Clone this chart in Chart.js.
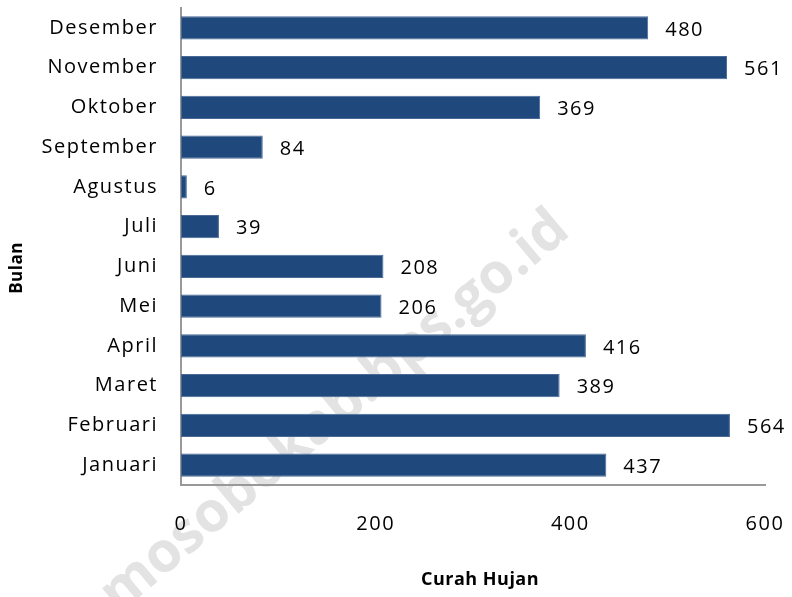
<!DOCTYPE html>
<html>
<head>
<meta charset="utf-8">
<script src="https://cdn.jsdelivr.net/npm/chart.js@4.4.1/dist/chart.umd.min.js"></script>
<style>
  html, body { margin: 0; padding: 0; background: #ffffff; }
  #wrap { width: 792px; height: 597px; }
</style>
</head>
<body>
<div id="wrap"><canvas id="rainChart"></canvas></div>
<script>
var bulan = ["Januari", "Februari", "Maret", "April", "Mei", "Juni", "Juli",
  "Agustus", "September", "Oktober", "November", "Desember"];
var curahHujan = [437, 564, 389, 416, 206, 208, 39, 6, 84, 369, 561, 480];
var xTicks = [0, 200, 400, 600];

var fontName = "'Open Sans', 'Noto Sans', sans-serif";

// faint watermark behind the bars, then loosen the lettering a bit
var watermark = {
  id: "watermark",
  beforeDraw: function (chart) {
    var ctx = chart.ctx;
    ctx.save();
    ctx.translate(335, 412);
    ctx.rotate(-40 * Math.PI / 180);
    ctx.font = "bold 56px " + fontName;
    ctx.fillStyle = "#e3e3e3";
    ctx.textAlign = "center";
    ctx.textBaseline = "middle";
    ctx.fillText("mosobokab.bps.go.id", 0, 0);
    ctx.restore();
    ctx.letterSpacing = "1.5px";
  }
};

// value labels at the end of each bar, plus both axis titles
var valueLabels = {
  id: "valueLabels",
  afterDatasetsDraw: function (chart) {
    var ctx = chart.ctx;
    var meta = chart.getDatasetMeta(0);
    ctx.save();
    ctx.font = "20px " + fontName;
    ctx.fillStyle = "#000000";
    ctx.textAlign = "left";
    ctx.textBaseline = "middle";
    meta.data.forEach(function (bar, i) {
      ctx.fillText(String(curahHujan[i]), bar.x + 17, bar.y + 2);
    });
    ctx.restore();
  },
  afterDraw: function (chart) {
    var ctx = chart.ctx;
    ctx.save();
    ctx.letterSpacing = "0.5px";
    ctx.font = "bold 18px " + fontName;
    ctx.fillStyle = "#000000";
    ctx.textAlign = "center";
    ctx.textBaseline = "middle";
    ctx.fillText("Curah Hujan", 480, 580);
    ctx.translate(17, 268);
    ctx.rotate(-Math.PI / 2);
    ctx.font = "bold 17px " + fontName;
    ctx.fillText("Bulan", 0, 0);
    ctx.restore();
  }
};

var ctx = document.getElementById("rainChart").getContext("2d");
var rainChart = new Chart(ctx, {
  type: "bar",
  data: {
    labels: bulan,
    datasets: [
      {
        label: "Curah Hujan",
        data: curahHujan,
        backgroundColor: "#1f497d",
        borderColor: "#4a6a95",
        borderWidth: 1,
        borderSkipped: false,
        categoryPercentage: 1,
        barPercentage: 0.58
      }
    ]
  },
  options: {
    indexAxis: "y",
    responsive: true,
    maintainAspectRatio: false,
    animation: false,
    layout: { padding: { top: 8, right: 27, left: 0, bottom: 0 } },
    plugins: {
      legend: { display: false },
      tooltip: { enabled: false }
    },
    scales: {
      x: {
        min: 0,
        max: 600,
        afterBuildTicks: function (scale) {
          scale.ticks = xTicks.map(function (v) { return { value: v }; });
        },
        afterFit: function (scale) {
          scale.height = 112;
          scale.paddingLeft = 0;
          scale.paddingRight = 0;
        },
        grid: { display: false, drawTicks: false },
        border: { color: "#999999", width: 2 },
        ticks: {
          padding: 27,
          color: "#000000",
          font: { family: fontName, size: 20 }
        },
        title: { display: false }
      },
      y: {
        reverse: true,
        afterFit: function (scale) {
          scale.width = 181;
          scale.paddingTop = 0;
          scale.paddingBottom = 0;
        },
        grid: { display: false, drawTicks: false },
        border: { color: "#999999", width: 2 },
        ticks: {
          padding: 23,
          color: "#000000",
          font: { family: fontName, size: 20 }
        },
        title: { display: false }
      }
    }
  },
  plugins: [watermark, valueLabels]
});
</script>
</body>
</html>
